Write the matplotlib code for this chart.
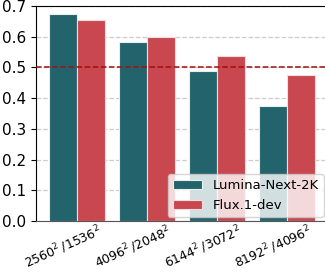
import matplotlib
matplotlib.use('Agg')
import matplotlib.pyplot as plt
import matplotlib.transforms as mtransforms
import numpy as np

# data
resolutions = [r'$2560^2\,/1536^2$', r'$4096^2\,/2048^2$', r'$6144^2\,/3072^2$', r'$8192^2\,/4096^2$']
lumina = [0.675, 0.583, 0.490, 0.373]
flux = [0.653, 0.600, 0.536, 0.475]
threshold = 0.5

fig = plt.figure(figsize=(3.25, 2.72), dpi=100)
ax = fig.add_axes([36/325, 51/272, 292/325, 215/272])

x = np.arange(len(resolutions))
w = 0.4
ax.bar(x - w/2, lumina, w, color='#23636b', edgecolor='#e6eeee', linewidth=0.8,
       label='Lumina-Next-2K', zorder=3)
ax.bar(x + w/2, flux, w, color='#c9474f', edgecolor='#f2dcdc', linewidth=0.8,
       label='Flux.1-dev', zorder=3)

ax.axhline(threshold, color='#a01010', linestyle='--', linewidth=1.1, zorder=4)
ax.yaxis.grid(True, linestyle='--', color='#cccccc', linewidth=0.9, zorder=0)

ax.set_ylim(0, 0.7)
ax.set_xlim(-0.59, 3.58)
ax.set_yticks(np.arange(0, 0.71, 0.1))
ax.set_xticks(x)
ax.set_xticklabels(resolutions, rotation=24, ha='center', fontsize=9)
ax.tick_params(axis='y', labelsize=11)
ax.tick_params(axis='x', length=0, pad=1)
# shift the rotated labels a bit to the left like in the original
offset = mtransforms.ScaledTranslation(-14/100, 0, fig.dpi_scale_trans)
for lbl in ax.get_xticklabels():
    lbl.set_transform(lbl.get_transform() + offset)
ax.spines['right'].set_visible(False)
ax.spines['bottom'].set_color('#555555')

ax.legend(loc='lower right', fontsize=9.5, framealpha=0.8, borderaxespad=0.3,
          handlelength=2.2)

plt.savefig('out.png', dpi=100)
